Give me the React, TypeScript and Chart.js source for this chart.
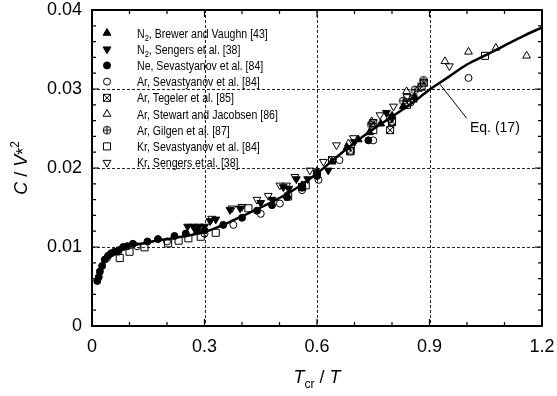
import React, { useEffect, useRef } from "react";
import { Chart, registerables } from "chart.js";

Chart.register(...registerables);

// ---------------- data ----------------
const X_TICK_STEP = 0.3;
const Y_TICK_STEP = 0.01;
const X_MIN = 0, X_MAX = 1.2, Y_MIN = 0, Y_MAX = 0.04;

const CURVE_X = [0.012, 0.02, 0.03, 0.04, 0.05, 0.06, 0.08, 0.1, 0.13, 0.16, 0.2, 0.25, 0.3, 0.35, 0.4, 0.45, 0.5, 0.55, 0.6, 0.65, 0.7, 0.75, 0.8, 0.85, 0.9, 0.95, 1.0, 1.05, 1.1, 1.15, 1.2];
const CURVE_Y = [0.0057, 0.0068, 0.0079, 0.0086, 0.0091, 0.0094, 0.0098, 0.0101, 0.0104, 0.0107, 0.011, 0.0114, 0.0119, 0.0128, 0.0139, 0.015, 0.0162, 0.0176, 0.0193, 0.0213, 0.0232, 0.0249, 0.0265, 0.0281, 0.0299, 0.0315, 0.0331, 0.0343, 0.0355, 0.0367, 0.0378];

const N2_BREWER_X = [0.56, 0.6, 0.64, 0.68, 0.71, 0.74, 0.77, 0.8, 0.83, 0.86];
const N2_BREWER_Y = [0.0178, 0.0194, 0.0208, 0.0226, 0.0236, 0.0245, 0.0256, 0.0266, 0.0278, 0.029];

const N2_SENGERS_X = [0.255, 0.27, 0.285, 0.3, 0.315, 0.33, 0.368, 0.395, 0.45, 0.48, 0.51, 0.525, 0.545, 0.575, 0.63, 0.7, 0.785, 0.8];
const N2_SENGERS_Y = [0.0126, 0.0126, 0.0126, 0.0126, 0.0133, 0.0135, 0.0147, 0.0149, 0.0156, 0.016, 0.0176, 0.0174, 0.0186, 0.0186, 0.0197, 0.0233, 0.027, 0.0265];

const NE_SEV_X = [0.014, 0.018, 0.021, 0.027, 0.034, 0.043, 0.051, 0.06, 0.071, 0.083, 0.094, 0.109, 0.148, 0.176, 0.22, 0.25, 0.28, 0.3, 0.35, 0.4, 0.44, 0.48, 0.52, 0.56, 0.6, 0.737];
const NE_SEV_Y = [0.0057, 0.0062, 0.0069, 0.0076, 0.0084, 0.0089, 0.0092, 0.0094, 0.0096, 0.01, 0.0101, 0.0104, 0.0107, 0.011, 0.0114, 0.0117, 0.012, 0.0121, 0.0128, 0.0137, 0.0146, 0.0153, 0.0163, 0.0175, 0.019, 0.0235];

const AR_SEV_X = [0.04, 0.07, 0.12, 0.2, 0.3, 0.377, 0.45, 0.501, 0.56, 0.604, 0.66, 0.75, 0.85, 1.004];
const AR_SEV_Y = [0.0086, 0.0094, 0.0101, 0.0107, 0.0117, 0.0128, 0.0142, 0.0155, 0.0172, 0.0185, 0.021, 0.0235, 0.0283, 0.0314];

const AR_TEGELER_X = [0.56, 0.6, 0.64, 0.69, 0.75, 0.795, 0.8, 0.84, 0.857, 0.879, 0.885];
const AR_TEGELER_Y = [0.0176, 0.0193, 0.021, 0.0222, 0.0257, 0.0248, 0.0259, 0.0283, 0.0288, 0.0303, 0.0308];

const AR_STEWART_X = [0.52, 0.6, 0.684, 0.746, 0.839, 0.87, 0.941, 1.004, 1.077, 1.159];
const AR_STEWART_Y = [0.0165, 0.0196, 0.0231, 0.0259, 0.0297, 0.03, 0.0335, 0.0347, 0.0352, 0.0342];

const AR_GILGEN_X = [0.745, 0.795, 0.83, 0.861, 0.884];
const AR_GILGEN_Y = [0.0255, 0.0262, 0.0285, 0.0299, 0.0311];

const KR_SEV_X = [0.074, 0.1, 0.14, 0.203, 0.231, 0.257, 0.29, 0.33, 0.417, 0.523, 0.57, 0.688, 0.75, 0.8, 0.84, 1.048];
const KR_SEV_Y = [0.0086, 0.0094, 0.00996, 0.01046, 0.0108, 0.0111, 0.0113, 0.0118, 0.0149, 0.0164, 0.0178, 0.0221, 0.0248, 0.0258, 0.028, 0.0342];

const KR_SENGERS_X = [0.319, 0.373, 0.4, 0.44, 0.47, 0.501, 0.519, 0.541, 0.581, 0.617, 0.652, 0.697, 0.768, 0.804, 0.84, 0.953];
const KR_SENGERS_Y = [0.0136, 0.0149, 0.0151, 0.016, 0.0165, 0.0178, 0.0178, 0.0189, 0.0197, 0.0208, 0.0229, 0.0238, 0.0267, 0.0278, 0.029, 0.0329];

const LEGEND_LABELS = [
  "N_2, Brewer and Vaughn [43]",
  "N_2, Sengers et al. [38]",
  "Ne, Sevastyanov et al. [84]",
  "Ar, Sevastyanov et al. [84]",
  "Ar, Tegeler et al. [85]",
  "Ar, Stewart and Jacobsen [86]",
  "Ar, Gilgen et al. [87]",
  "Kr, Sevastyanov et al. [84]",
  "Kr, Sengers et al. [38]",
];

const EQ_LABEL = "Eq. (17)";
const EQ_LEADER_FROM = [0.928, 0.0306];
const EQ_LEADER_TO = [0.999, 0.0263];
const EQ_TEXT_AT = [1.008, 0.0251];

const FONT = '"Liberation Sans", Arial, Helvetica, sans-serif';

function pts(xs: number[], ys: number[]) {
  return xs.map((x, i) => ({ x, y: ys[i] }));
}

function makeMarker(kind: "boxx" | "circplus"): HTMLCanvasElement {
  const c = document.createElement("canvas");
  c.width = 10;
  c.height = 10;
  const g = c.getContext("2d")!;
  g.strokeStyle = "#000";
  g.lineWidth = 1;
  if (kind === "boxx") {
    g.strokeRect(1.5, 1.5, 7, 7);
    g.beginPath();
    g.moveTo(1.5, 1.5); g.lineTo(8.5, 8.5);
    g.moveTo(8.5, 1.5); g.lineTo(1.5, 8.5);
    g.stroke();
  } else {
    g.beginPath();
    g.arc(5, 5, 3.8, 0, Math.PI * 2);
    g.stroke();
    g.beginPath();
    g.moveTo(5, 1); g.lineTo(5, 9);
    g.moveTo(1, 5); g.lineTo(9, 5);
    g.stroke();
  }
  return c;
}

type Run = { t: string; font: string; dy: number };

function drawRuns(ctx: CanvasRenderingContext2D, runs: Run[], x: number, y: number, align: "left" | "center") {
  let total = 0;
  for (const r of runs) { ctx.font = r.font; total += ctx.measureText(r.t).width; }
  let cx = align === "center" ? x - total / 2 : x;
  ctx.textAlign = "left";
  ctx.textBaseline = "alphabetic";
  for (const r of runs) {
    ctx.font = r.font;
    ctx.fillText(r.t, cx, y + r.dy);
    cx += ctx.measureText(r.t).width;
  }
}

function drawLegendMarker(ctx: CanvasRenderingContext2D, ds: any, x: number, y: number) {
  const style = ds.pointStyle;
  const r = ds.pointRadius;
  ctx.save();
  ctx.strokeStyle = "#000";
  ctx.fillStyle = ds.pointBackgroundColor;
  ctx.lineWidth = 1;
  if (style instanceof HTMLCanvasElement) {
    ctx.drawImage(style, x - style.width / 2, y - style.height / 2);
  } else if (style === "circle") {
    ctx.beginPath();
    ctx.arc(x, y, r, 0, Math.PI * 2);
    ctx.fill();
    ctx.stroke();
  } else if (style === "rect") {
    const s = Math.SQRT1_2 * r;
    ctx.beginPath();
    ctx.rect(x - s, y - s, 2 * s, 2 * s);
    ctx.fill();
    ctx.stroke();
  } else if (style === "triangle") {
    const rot = ((ds.pointRotation || 0) * Math.PI) / 180;
    ctx.beginPath();
    for (let k = 0; k < 3; k++) {
      const a = rot + (k * 2 * Math.PI) / 3;
      const px = x + Math.sin(a) * r;
      const py = y - Math.cos(a) * r;
      if (k === 0) ctx.moveTo(px, py); else ctx.lineTo(px, py);
    }
    ctx.closePath();
    ctx.fill();
    ctx.stroke();
  }
  ctx.restore();
}

const decorPlugin = {
  id: "decor",
  beforeDatasetsDraw(chart: any) {
    const { ctx, chartArea: a, scales } = chart;
    const xs = scales.x, ys = scales.y;
    ctx.save();
    ctx.strokeStyle = "#222";
    ctx.lineWidth = 1;
    ctx.setLineDash([3, 2]);
    for (let i = 1; i < Math.round((X_MAX - X_MIN) / X_TICK_STEP); i++) {
      const px = Math.round(xs.getPixelForValue(X_MIN + i * X_TICK_STEP)) + 0.5;
      ctx.beginPath(); ctx.moveTo(px, a.top); ctx.lineTo(px, a.bottom); ctx.stroke();
    }
    for (let i = 1; i < Math.round((Y_MAX - Y_MIN) / Y_TICK_STEP); i++) {
      const py = Math.round(ys.getPixelForValue(Y_MIN + i * Y_TICK_STEP)) + 0.5;
      ctx.beginPath(); ctx.moveTo(a.left, py); ctx.lineTo(a.right, py); ctx.stroke();
    }
    ctx.restore();
  },
  afterDatasetsDraw(chart: any) {
    const { ctx, chartArea: a, scales } = chart;
    const xs = scales.x, ys = scales.y;
    ctx.save();
    // ticks inward on all sides
    ctx.strokeStyle = "#000";
    ctx.lineWidth = 1.2;
    for (let i = 0; i <= 12; i++) {
      const px = xs.getPixelForValue(X_MIN + i * 0.1);
      const len = i % 3 === 0 ? 7 : 4;
      ctx.beginPath();
      ctx.moveTo(px, a.bottom); ctx.lineTo(px, a.bottom - len);
      ctx.moveTo(px, a.top); ctx.lineTo(px, a.top + len);
      ctx.stroke();
    }
    for (let i = 0; i <= 20; i++) {
      const py = ys.getPixelForValue(Y_MIN + i * 0.002);
      const len = i % 5 === 0 ? 7 : 4;
      ctx.beginPath();
      ctx.moveTo(a.left, py); ctx.lineTo(a.left + len, py);
      ctx.moveTo(a.right, py); ctx.lineTo(a.right - len, py);
      ctx.stroke();
    }
    // frame
    ctx.lineWidth = 2;
    ctx.strokeRect(a.left, a.top, a.right - a.left, a.bottom - a.top);

    // legend
    const dsets = chart.data.datasets.filter((d: any) => d.legendIndex !== undefined);
    const rowY0 = a.top + 23, rowH = 16.2;
    const markerX = a.left + 15, textX = a.left + 45;
    ctx.fillStyle = "#000";
    for (const d of dsets) {
      const i = d.legendIndex;
      const y = rowY0 + i * rowH;
      drawLegendMarker(ctx, d, markerX, y);
      const lbl: string = LEGEND_LABELS[i];
      const runs: Run[] = [];
      const m = lbl.match(/^(.*?)_(\d)(.*)$/);
      const f = `12px ${FONT}`;
      if (m) {
        runs.push({ t: m[1], font: f, dy: 0 });
        runs.push({ t: m[2], font: `8.5px ${FONT}`, dy: 3.5 });
        runs.push({ t: m[3], font: f, dy: 0 });
      } else runs.push({ t: lbl, font: f, dy: 0 });
      ctx.save();
      ctx.translate(textX, y + 4.5);
      ctx.scale(0.88, 1);
      drawRuns(ctx, runs, 0, 0, "left");
      ctx.restore();
    }

    // Eq. (17) annotation
    ctx.lineWidth = 1;
    ctx.beginPath();
    ctx.moveTo(xs.getPixelForValue(EQ_LEADER_FROM[0]), ys.getPixelForValue(EQ_LEADER_FROM[1]));
    ctx.lineTo(xs.getPixelForValue(EQ_LEADER_TO[0]), ys.getPixelForValue(EQ_LEADER_TO[1]));
    ctx.stroke();
    ctx.font = `14px ${FONT}`;
    ctx.textAlign = "left";
    ctx.textBaseline = "middle";
    ctx.fillText(EQ_LABEL, xs.getPixelForValue(EQ_TEXT_AT[0]), ys.getPixelForValue(EQ_TEXT_AT[1]));

    // axis titles
    const big = `18px ${FONT}`, bigI = `italic 18px ${FONT}`, small = `12px ${FONT}`;
    drawRuns(ctx, [
      { t: "T", font: bigI, dy: 0 },
      { t: "cr", font: small, dy: 5 },
      { t: " / ", font: big, dy: 0 },
      { t: "T", font: bigI, dy: 0 },
    ], (a.left + a.right) / 2, 383, "center");

    ctx.save();
    ctx.translate(27, (a.top + a.bottom) / 2);
    ctx.rotate(-Math.PI / 2);
    drawRuns(ctx, [
      { t: "C", font: bigI, dy: 0 },
      { t: " / ", font: big, dy: 0 },
      { t: "V", font: bigI, dy: 0 },
      { t: "*", font: big, dy: 2 },
      { t: "2", font: small, dy: -8 },
    ], 0, 0, "center");
    ctx.restore();
    ctx.restore();
  },
};

export default function App() {
  const ref = useRef<HTMLCanvasElement | null>(null);
  useEffect(() => {
    const canvas = ref.current!;
    const boxx = makeMarker("boxx");
    const circplus = makeMarker("circplus");
    const open = "rgba(0,0,0,0)";
    const base = { showLine: false, pointBorderColor: "#000", pointBorderWidth: 1, order: 1 };
    const datasets: any[] = [
      { ...base, label: LEGEND_LABELS[0], legendIndex: 0, data: pts(N2_BREWER_X, N2_BREWER_Y), pointStyle: "triangle", pointRadius: 4.5, pointRotation: 0, pointBackgroundColor: "#000" },
      { ...base, label: LEGEND_LABELS[1], legendIndex: 1, data: pts(N2_SENGERS_X, N2_SENGERS_Y), pointStyle: "triangle", pointRadius: 4.5, pointRotation: 180, pointBackgroundColor: "#000" },
      { ...base, label: LEGEND_LABELS[2], legendIndex: 2, data: pts(NE_SEV_X, NE_SEV_Y), pointStyle: "circle", pointRadius: 3.5, pointBackgroundColor: "#000" },
      { ...base, label: LEGEND_LABELS[3], legendIndex: 3, data: pts(AR_SEV_X, AR_SEV_Y), pointStyle: "circle", pointRadius: 3.5, pointBackgroundColor: open },
      { ...base, label: LEGEND_LABELS[4], legendIndex: 4, data: pts(AR_TEGELER_X, AR_TEGELER_Y), pointStyle: boxx, pointRadius: 4.5, pointBackgroundColor: open },
      { ...base, label: LEGEND_LABELS[5], legendIndex: 5, data: pts(AR_STEWART_X, AR_STEWART_Y), pointStyle: "triangle", pointRadius: 4.5, pointRotation: 0, pointBackgroundColor: open },
      { ...base, label: LEGEND_LABELS[6], legendIndex: 6, data: pts(AR_GILGEN_X, AR_GILGEN_Y), pointStyle: circplus, pointRadius: 4.5, pointBackgroundColor: open },
      { ...base, label: LEGEND_LABELS[7], legendIndex: 7, data: pts(KR_SEV_X, KR_SEV_Y), pointStyle: "rect", pointRadius: 5, pointBackgroundColor: open },
      { ...base, label: LEGEND_LABELS[8], legendIndex: 8, data: pts(KR_SENGERS_X, KR_SENGERS_Y), pointStyle: "triangle", pointRadius: 4.5, pointRotation: 180, pointBackgroundColor: open },
      {
        label: "Eq. (17)",
        data: pts(CURVE_X, CURVE_Y),
        showLine: true,
        pointRadius: 0,
        borderColor: "#000",
        borderWidth: 2.5,
        cubicInterpolationMode: "monotone",
        order: 0,
      },
    ];
    const chart = new Chart(canvas, {
      type: "scatter",
      data: { datasets },
      options: {
        animation: false,
        responsive: false,
        layout: { padding: { top: 10, right: 15, left: 0, bottom: 0 } },
        plugins: { legend: { display: false }, tooltip: { enabled: false } },
        scales: {
          x: {
            type: "linear",
            min: X_MIN,
            max: X_MAX,
            grid: { display: false, drawTicks: false },
            border: { display: false },
            ticks: {
              stepSize: X_TICK_STEP,
              color: "#000",
              padding: 10,
              font: { size: 18, family: FONT },
              callback: (v: any) => (Math.abs(v) < 1e-9 ? "0" : Number(v).toFixed(1)),
            },
            afterFit: (s: any) => { s.height = 70; s.paddingLeft = 0; s.paddingRight = 0; },
          },
          y: {
            type: "linear",
            min: Y_MIN,
            max: Y_MAX,
            grid: { display: false, drawTicks: false },
            border: { display: false },
            ticks: {
              stepSize: Y_TICK_STEP,
              color: "#000",
              padding: 10,
              font: { size: 18, family: FONT },
              callback: (v: any) => (Math.abs(v) < 1e-12 ? "0" : Number(v).toFixed(2)),
            },
            afterFit: (s: any) => { s.width = 92; s.paddingTop = 0; s.paddingBottom = 0; },
          },
        },
      },
      plugins: [decorPlugin],
    } as any);
    return () => chart.destroy();
  }, []);
  return (
    <canvas
      ref={ref}
      width={557}
      height={396}
      style={{ position: "absolute", left: 0, top: 0, width: 557, height: 396 }}
    />
  );
}
